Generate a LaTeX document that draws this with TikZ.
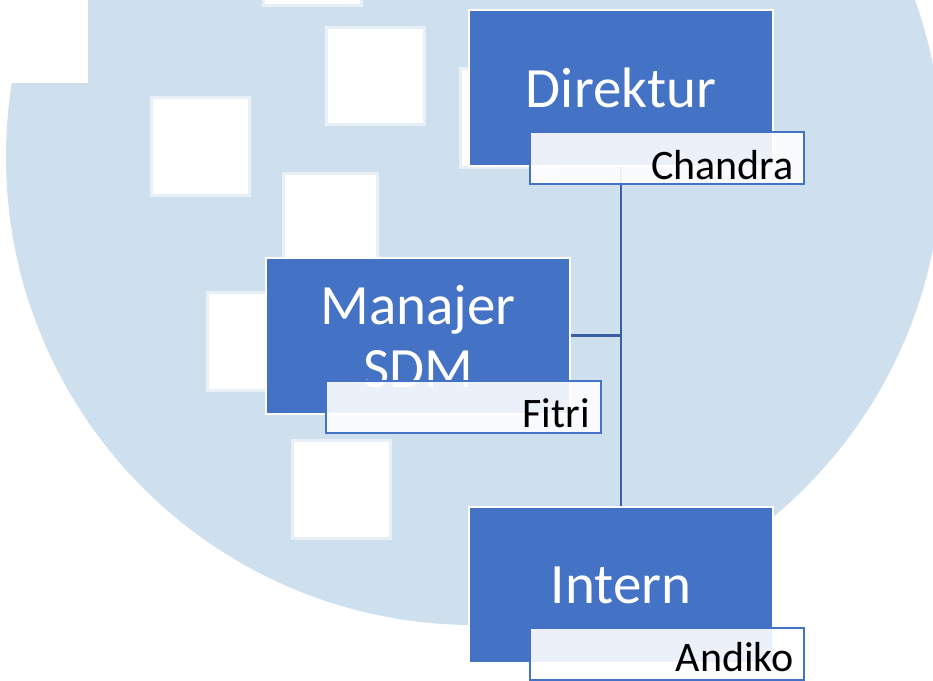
\documentclass[tikz,border=0pt]{standalone}
\usepackage{fontspec}
\setmainfont{Carlito}
\definecolor{bgblue}{RGB}{206,223,238}
\definecolor{sqedge}{RGB}{232,239,247}
\definecolor{boxblue}{RGB}{68,114,196}
\definecolor{linkblue}{RGB}{58,95,166}
\tikzset{
  sq/.style={fill=white, draw=sqedge, line width=3pt},
  mainbox/.style={draw=white, fill=boxblue, line width=2pt, inner sep=0pt, minimum width=304pt, minimum height=156pt},
  namebox/.style={draw=boxblue, fill=white, fill opacity=0.9, line width=1.5pt, inner sep=0pt, minimum width=274pt, minimum height=52pt},
  maintext/.style={text=white, font=\fontsize{57}{62}\selectfont, inner sep=0pt, anchor=base},
  nametext/.style={text=black, font=\fontsize{42}{46}\selectfont, inner sep=0pt, anchor=base east},
  conn/.style={draw=linkblue, line width=2.2pt}
}
\begin{document}
\begin{tikzpicture}[x=1pt,y=-1pt]
\useasboundingbox (0,0) rectangle (933,680);
% background watermark
\begin{scope}
\clip (0,0) rectangle (933,680);
\fill[bgblue] (474,157) circle[radius=468pt];
\fill[white] (-20,-20) rectangle (88,83);
\path[sq] (151,97) rectangle (249,195);
\path[sq] (326,27) rectangle (424,124);
\path[sq] (283,173) rectangle (377,271);
\path[sq] (207,292) rectangle (305,390);
\path[sq] (292,440) rectangle (390,538);
\path[sq] (460,68) rectangle (558,167);
\path[sq] (263,-93) rectangle (361,5);
\end{scope}
% main boxes
\node[mainbox] (dir) at (621,88) {};
\node[mainbox] (mgr) at (418,335.5) {};
\node[mainbox] (int) at (621,584.5) {};
% connectors
\draw[conn] (dir.south) -- (int.north);
\draw[conn] (mgr.east) -- (mgr.east -| dir.south);
% main labels
\node[maintext] (tdir) at (621,107) {Direktur};
\node[maintext] (tmgr1) at (418,324) {Manajer};
\node[maintext] (tmgr2) at (418,387) {SDM};
\node[maintext] (tint) at (621,603) {Intern};
% name boxes
\node[namebox] (ndir) at (667,158) {};
\node[namebox, minimum width=275pt] (nmgr) at (463.5,407) {};
\node[namebox] (nint) at (667,654) {};
\node[nametext] (tch) at (794,179) {Chandra};
\node[nametext] (tfi) at (590,427) {Fitri};
\node[nametext] (tan) at (794,671) {Andiko};
\end{tikzpicture}
\end{document}
